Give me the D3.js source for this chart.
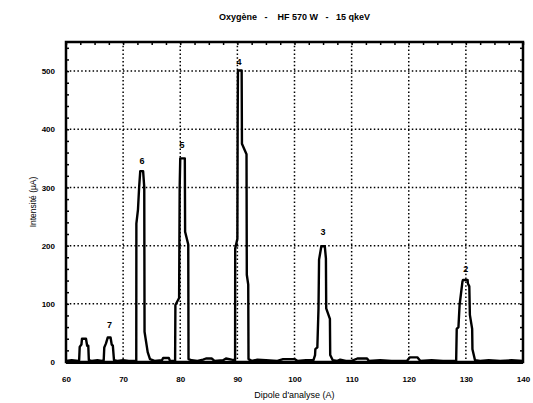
<!DOCTYPE html>
<html>
<head>
<meta charset="utf-8">
<script src="https://cdn.jsdelivr.net/npm/d3@7"></script>
<style>
	body { margin: 0; background: #fff; }
	svg { display: block; font-family: "Liberation Sans", Arial, sans-serif; }
</style>
</head>
<body>
<svg id="chart" width="533" height="403"></svg>
<script>
// spectrum trace
const dipole = [60, 61, 62.2, 62.3, 62.4, 62.7, 62.8, 63.5, 63.7, 63.9, 64.0, 64.5, 65.5, 66.3,
	66.6, 66.7, 67.0, 67.3, 67.8, 68.0, 68.2, 68.4, 69, 70, 71, 72.3,
	72.32, 72.6, 72.8, 73.0, 73.5, 73.7, 73.75, 74.3, 74.7, 75.5, 76.8, 77, 78, 78.2, 79.1,
	79.15, 79.8, 79.9, 80.0, 80.8, 80.85, 81.4, 81.45, 82, 83, 84, 84.5, 85.5, 86, 87.5, 88, 89, 89.6,
	89.62, 90.0, 90.05, 90.1, 90.75, 90.8, 91.6, 91.65, 91.9, 91.95, 92.5, 93.5, 95, 97, 98, 100, 100.5, 102, 103.3,
	103.6, 103.65, 104.0, 104.2, 104.3, 104.7, 105.3, 105.5, 105.55, 106.2, 106.25, 106.7, 107.5, 108, 109, 110,
	111, 112.7, 113, 115, 117, 119.7, 120.2, 121.5, 122, 124, 126, 128.3,
	128.4, 128.7, 128.9, 129.4, 129.5, 130.3, 130.35, 130.6, 130.7, 131.1, 131.15, 131.6, 132.5, 134, 136, 138, 140];
const intensite = [2, 3, 2, 3, 26, 30, 40, 40, 28, 28, 3, 2, 3, 2,
	3, 25, 32, 42, 42, 30, 28, 3, 2, 3, 2, 2,
	238, 262, 300, 328, 328, 300, 52, 17, 5, 2, 3, 7, 7, 2, 2,
	98, 110, 300, 350, 350, 224, 202, 5, 3, 2, 4, 6, 6, 2, 3, 6, 4, 3,
	195, 212, 414, 501, 501, 375, 357, 150, 133, 5, 2, 4, 3, 2, 5, 5, 2, 3, 3,
	12, 22, 25, 92, 176, 199, 199, 178, 92, 74, 12, 3, 2, 4, 2, 2,
	6, 6, 2, 3, 2, 2, 8, 8, 2, 3, 2, 2,
	57, 60, 98, 138, 141, 141, 135, 130, 81, 57, 22, 3, 2, 3, 2, 3, 2];

// peak numbers
const peakNames = ["7", "6", "5", "4", "3", "2"];
const peakX = [67.6, 73.3, 80.3, 90.3, 105.0, 130.0];
const peakY = [58, 340, 367, 510, 218, 154];

const xTicks = [60, 70, 80, 90, 100, 110, 120, 130, 140];
const yTicks = [0, 100, 200, 300, 400, 500];

const svg = d3.select("#chart");
const margin = {left: 66, right: 10, top: 42, bottom: 41};
const width = +svg.attr("width") - margin.left - margin.right;
const height = +svg.attr("height") - margin.top - margin.bottom;

const x = d3.scaleLinear().domain([60, 140]).range([0, width]);
const y = d3.scaleLinear().domain([0, 550]).range([height, 0]);

const g = svg.append("g").attr("transform", `translate(${margin.left},${margin.top})`);

// dotted grid
g.append("g")
	.selectAll("line")
	.data(xTicks.slice(1, -1))
	.join("line")
	.attr("x1", d => x(d)).attr("x2", d => x(d))
	.attr("y1", 0).attr("y2", height)
	.attr("stroke", "#000").attr("stroke-width", 1.5)
	.attr("stroke-dasharray", "1.5,2.3");
g.append("g")
	.selectAll("line")
	.data(yTicks.slice(1))
	.join("line")
	.attr("y1", d => y(d)).attr("y2", d => y(d))
	.attr("x1", 0).attr("x2", width)
	.attr("stroke", "#000").attr("stroke-width", 1.5)
	.attr("stroke-dasharray", "1.5,2.3");

// inner minor ticks on the frame
const tickStyle = sel => sel.call(s => s.select(".domain").remove())
	.call(s => s.selectAll(".tick line").attr("stroke-width", 1.5));
g.append("g").call(d3.axisRight(y).tickValues(d3.range(0, 551, 20)).tickSize(3).tickFormat("")).call(tickStyle);
g.append("g").attr("transform", `translate(${width},0)`)
	.call(d3.axisLeft(y).tickValues(d3.range(0, 551, 20)).tickSize(3).tickFormat("")).call(tickStyle);
g.append("g").call(d3.axisBottom(x).tickValues(d3.range(60, 140.1, 2.5)).tickSize(3).tickFormat("")).call(tickStyle);

// tick labels
const xAxis = g.append("g").attr("transform", `translate(0,${height})`)
	.call(d3.axisBottom(x).tickValues(xTicks).tickSize(0).tickPadding(14).tickFormat(d3.format("d")));
xAxis.select(".domain").remove();
xAxis.selectAll("text").attr("font-size", 8).attr("font-weight", "bold").attr("font-family", "Liberation Sans, Arial, sans-serif");

const yAxis = g.append("g")
	.call(d3.axisLeft(y).tickValues(yTicks).tickSize(0).tickPadding(11).tickFormat(d3.format("d")));
yAxis.select(".domain").remove();
yAxis.selectAll("text").attr("font-size", 8).attr("font-weight", "bold").attr("font-family", "Liberation Sans, Arial, sans-serif");

// the trace
const pts = dipole.map((d, i) => [d, intensite[i]]);
g.append("path")
	.datum(pts)
	.attr("fill", "none")
	.attr("stroke", "#000")
	.attr("stroke-width", 2.4)
	.attr("stroke-linejoin", "round")
	.attr("d", d3.line().x(d => x(d[0])).y(d => y(d[1])));

// frame
g.append("rect")
	.attr("width", width).attr("height", height)
	.attr("fill", "none").attr("stroke", "#000").attr("stroke-width", 2.5);
g.append("line")
	.attr("x1", 0).attr("x2", width).attr("y1", height + 0.5).attr("y2", height + 0.5)
	.attr("stroke", "#000").attr("stroke-width", 3);

// peak numbers
g.append("g")
	.selectAll("text")
	.data(peakNames)
	.join("text")
	.attr("x", (d, i) => x(peakX[i]))
	.attr("y", (d, i) => y(peakY[i]))
	.attr("text-anchor", "middle")
	.attr("font-size", 9).attr("font-weight", "bold")
	.text(d => d);

// titles
svg.append("text")
	.attr("x", margin.left + width / 2).attr("y", 20)
	.attr("text-anchor", "middle")
	.attr("font-size", 9).attr("font-weight", "bold")
	.attr("xml:space", "preserve")
	.text("Oxygène   -    HF 570 W   -   15 qkeV");

svg.append("text")
	.attr("x", margin.left + width / 2).attr("y", 398)
	.attr("text-anchor", "middle")
	.attr("font-size", 9)
	.text("Dipole d'analyse (A)");

svg.append("text")
	.attr("transform", `translate(36,${margin.top + height / 2}) rotate(-90)`)
	.attr("text-anchor", "middle")
	.attr("font-size", 8.5)
	.text("Intensité (µA)");
</script>
</body>
</html>
